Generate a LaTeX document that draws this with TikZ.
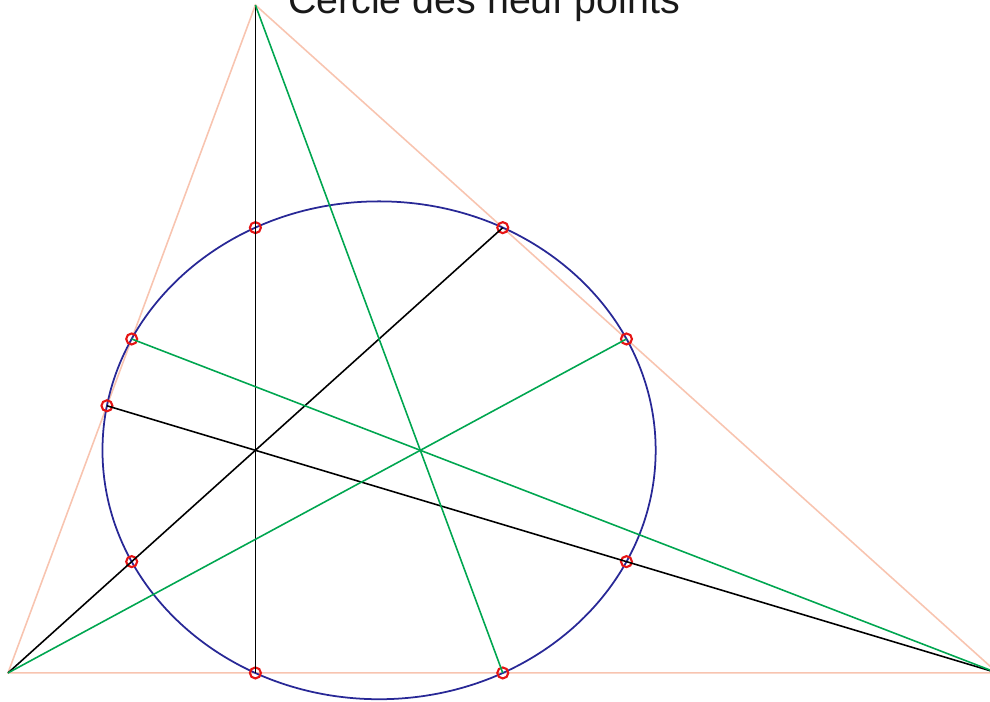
\documentclass[tikz,border=0pt]{standalone}
\usepackage{fontspec}
\setmainfont{Liberation Sans}
\usepackage{xcolor}
\usetikzlibrary{positioning}

\definecolor{cote}{RGB}{248,196,176}
\definecolor{mediane}{RGB}{0,166,80}
\definecolor{cercle}{RGB}{40,40,150}
\definecolor{point}{RGB}{230,20,20}

\begin{document}
\begin{tikzpicture}[
  x=12.37mm, y=11.133mm,
  side/.style={cote,line width=0.45pt},
  med/.style={mediane,line width=0.45pt},
  haut/.style={black,line width=0.45pt},
  npc/.style={cercle,line width=0.5pt},
  pt/.style={circle,draw=point,line width=0.6pt,inner sep=0pt,minimum size=1.1mm}
]
\useasboundingbox (-0.0647,-0.2605) rectangle (7.939,6.045);

% sommets
\coordinate (A) at (0,0);
\coordinate (B) at (8,0);
\coordinate (C) at (2,6);
\coordinate (H) at (2,2);

% titre
\node[anchor=base,font=\fontsize{11.2}{13}\selectfont,text=black!90] (titre) at (3.848,5.928) {Cercle des neuf points};

% triangle
\draw[side] (A) -- (B) -- (C) -- cycle;

% cercle
\draw[npc] (3,2) circle[radius=2.2361];

% les neuf points
\node[pt] (mc) at (4,0) {};
\node[pt] (ma) at (5,3) {};
\node[pt] (mb) at (1,3) {};
\node[pt] (hc) at (2,0) {};
\node[pt] (ha) at (4,4) {};
\node[pt] (hb) at (0.8,2.4) {};
\node[pt] (ea) at (1,1) {};
\node[pt] (eb) at (5,1) {};
\node[pt] (ec) at (2,4) {};

% hauteurs
\draw[haut] (C) -- (hc.center);
\draw[haut] (A) -- (ha.center);
\draw[haut] (B) -- (hb.center);

% medianes
\draw[med] (C) -- (mc.center);
\draw[med] (A) -- (ma.center);
\draw[med] (B) -- (mb.center);
\end{tikzpicture}
\end{document}
